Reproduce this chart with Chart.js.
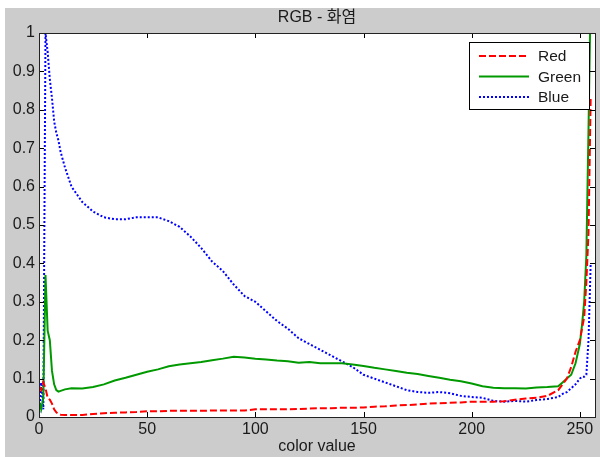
<!DOCTYPE html>
<html>
<head>
<meta charset="utf-8">
<script src="https://cdn.jsdelivr.net/npm/chart.js@4"></script>
<style>
  html, body { margin: 0; padding: 0; background: #fff; }
  canvas { display: block; }
</style>
</head>
<body>
<canvas id="histChart" width="604" height="457"></canvas>
<script>
const chartTitle = 'RGB - 화염';
const xLabel = 'color value';
const xTicks = [0, 50, 100, 150, 200, 250];
const yTicks = [0, 0.1, 0.2, 0.3, 0.4, 0.5, 0.6, 0.7, 0.8, 0.9, 1];

const colorValues = [0, 1, 2, 3, 4, 5, 6, 7, 8, 9, 10, 12, 15, 20, 25, 30, 35, 40, 45, 50,
    55, 60, 65, 70, 75, 80, 85, 90, 95, 100, 105, 110, 115, 120, 125, 130, 135, 140, 145, 150,
    155, 160, 165, 170, 175, 180, 185, 190, 195, 200, 205, 210, 215, 220, 225, 230, 235, 240,
    242, 244, 246, 248, 250, 251, 252, 253, 254, 255];

const redValues = [0.08, 0.07, 0.09, 0.075, 0.05, 0.045, 0.035, 0.02, 0.012, 0.008, 0.006, 0.005, 0.005, 0.005, 0.008, 0.01, 0.011, 0.012, 0.013, 0.015,
    0.015, 0.016, 0.016, 0.016, 0.016, 0.017, 0.017, 0.017, 0.017, 0.02, 0.02, 0.02, 0.02, 0.021, 0.022, 0.023, 0.023, 0.024, 0.024, 0.025,
    0.027, 0.028, 0.03, 0.031, 0.033, 0.035, 0.036, 0.037, 0.038, 0.04, 0.04, 0.04, 0.041, 0.045, 0.048, 0.05, 0.055, 0.07,
    0.085, 0.1, 0.13, 0.17, 0.2, 0.23, 0.26, 0.35, 0.48, 0.83];

const greenValues = [0.04, 0.02, 0.05, 0.37, 0.225, 0.2, 0.12, 0.085, 0.07, 0.066, 0.068, 0.072, 0.075, 0.074, 0.078, 0.085, 0.095, 0.102, 0.11, 0.118,
    0.124, 0.132, 0.137, 0.14, 0.143, 0.148, 0.152, 0.157, 0.155, 0.152, 0.15, 0.147, 0.145, 0.141, 0.143, 0.14, 0.14, 0.14, 0.137, 0.133,
    0.128, 0.124, 0.12, 0.115, 0.112, 0.107, 0.102, 0.097, 0.093, 0.087, 0.08, 0.076, 0.075, 0.075, 0.074, 0.077, 0.078, 0.08,
    0.09, 0.1, 0.11, 0.14, 0.19, 0.24, 0.3, 0.42, 0.75, 1.1];

const blueValues = [0.0, 0.09, 0.02, 1.0, 0.95, 0.88, 0.83, 0.77, 0.74, 0.72, 0.69, 0.65, 0.6, 0.56, 0.535, 0.52, 0.515, 0.515, 0.52, 0.52,
    0.52, 0.51, 0.495, 0.47, 0.44, 0.405, 0.38, 0.345, 0.315, 0.3, 0.275, 0.25, 0.23, 0.205, 0.19, 0.175, 0.16, 0.145, 0.13, 0.11,
    0.1, 0.09, 0.08, 0.07, 0.065, 0.063, 0.065, 0.062, 0.055, 0.052, 0.05, 0.042, 0.04, 0.042, 0.04, 0.044, 0.047, 0.052,
    0.06, 0.065, 0.075, 0.085, 0.1, 0.105, 0.105, 0.11, 0.2, 0.4];

const fontFamily = "'Liberation Sans', Arial, 'Noto Sans CJK KR', sans-serif";
const textColor = '#1a1a1a';

function toPoints(ys) {
    return colorValues.map((x, i) => ({ x: x, y: ys[i] }));
}

// gray figure + white axes background, title centred over the axes
const backgroundPlugin = {
    id: 'background',
    afterLayout(chart) {
        if (chart.titleBlock) {
            chart.titleBlock.left = chart.chartArea.left;
            chart.titleBlock.right = chart.chartArea.right;
        }
    },
    beforeDraw(chart) {
        const ctx = chart.ctx;
        const a = chart.chartArea;
        ctx.save();
        ctx.fillStyle = '#ffffff';
        ctx.fillRect(0, 0, chart.width, chart.height);
        ctx.fillStyle = '#cccccc';
        ctx.fillRect(5, 8, 595, chart.height - 8);
        ctx.fillStyle = '#ffffff';
        ctx.fillRect(a.left, a.top, a.right - a.left, a.bottom - a.top);
        ctx.restore();
    }
};

// box with inward ticks on all four sides, like matlab
const boxPlugin = {
    id: 'box',
    afterDatasetsDraw(chart) {
        const ctx = chart.ctx;
        const a = chart.chartArea;
        const xs = chart.scales.x;
        const ys = chart.scales.y;
        const len = 5;
        ctx.save();
        ctx.strokeStyle = '#000';
        ctx.lineWidth = 1;
        ctx.beginPath();
        xs.ticks.forEach(t => {
            const px = Math.round(xs.getPixelForValue(t.value)) + 0.5;
            ctx.moveTo(px, a.bottom);
            ctx.lineTo(px, a.bottom - len);
            ctx.moveTo(px, a.top);
            ctx.lineTo(px, a.top + len);
        });
        ys.ticks.forEach(t => {
            const py = Math.round(ys.getPixelForValue(t.value)) + 0.5;
            ctx.moveTo(a.left, py);
            ctx.lineTo(a.left + len, py);
            ctx.moveTo(a.right, py);
            ctx.lineTo(a.right - len, py);
        });
        ctx.stroke();
        ctx.strokeStyle = '#222';
        ctx.strokeRect(Math.round(a.left) + 0.5, Math.round(a.top) + 0.5,
            Math.round(a.right - a.left), Math.round(a.bottom - a.top));
        ctx.restore();
    }
};

// boxed legend in the top right corner
const legendPlugin = {
    id: 'boxLegend',
    afterDraw(chart) {
        const ctx = chart.ctx;
        const x0 = 469, y0 = 42, w = 120, h = 67;
        ctx.save();
        ctx.fillStyle = '#fff';
        ctx.fillRect(x0, y0, w, h);
        ctx.strokeStyle = '#000';
        ctx.lineWidth = 1;
        ctx.strokeRect(x0 + 0.5, y0 + 0.5, w, h);
        ctx.font = '15.5px ' + fontFamily;
        ctx.textBaseline = 'middle';
        chart.data.datasets.forEach((ds, i) => {
            const y = y0 + 14 + i * 20.5;
            ctx.strokeStyle = ds.borderColor;
            ctx.lineWidth = ds.borderWidth;
            ctx.setLineDash(ds.borderDash || []);
            ctx.beginPath();
            ctx.moveTo(x0 + 10, y);
            ctx.lineTo(x0 + 60, y);
            ctx.stroke();
            ctx.setLineDash([]);
            ctx.fillStyle = textColor;
            ctx.fillText(ds.label, x0 + 69, y + 1);
        });
        ctx.restore();
    }
};

const data = {
    datasets: [{
        label: 'Red',
        data: toPoints(redValues),
        borderColor: '#ff0000',
        borderWidth: 2,
        borderDash: [7, 3]
    }, {
        label: 'Green',
        data: toPoints(greenValues),
        borderColor: '#009a00',
        borderWidth: 2
    }, {
        label: 'Blue',
        data: toPoints(blueValues),
        borderColor: '#0000ff',
        borderWidth: 2,
        borderDash: [2, 2]
    }]
};

const config = {
    type: 'line',
    data: data,
    options: {
        responsive: false,
        animation: false,
        devicePixelRatio: 1,
        layout: { padding: { top: 0, right: 9, bottom: 0, left: 0 } },
        elements: {
            point: { radius: 0 },
            line: { tension: 0 }
        },
        plugins: {
            legend: { display: false },
            tooltip: { enabled: false },
            title: {
                display: true,
                text: chartTitle,
                color: textColor,
                font: { family: fontFamily, size: 16, weight: 'normal', lineHeight: 1.2 },
                padding: { top: 8.4, bottom: 5.4 }
            }
        },
        scales: {
            x: {
                type: 'linear',
                min: 0,
                max: 257,
                afterBuildTicks: s => { s.ticks = xTicks.map(v => ({ value: v })); },
                afterFit: s => { s.height = 40; },
                grid: { display: false, drawTicks: false },
                border: { display: false },
                ticks: {
                    padding: 3.4,
                    color: textColor,
                    maxRotation: 0,
                    font: { family: fontFamily, size: 16, lineHeight: 1.2 },
                    callback: v => String(v)
                },
                title: {
                    display: true,
                    text: xLabel,
                    color: textColor,
                    font: { family: fontFamily, size: 16, lineHeight: 1.2 },
                    padding: { top: 0, bottom: 0.5 }
                }
            },
            y: {
                min: 0,
                max: 1,
                afterBuildTicks: s => { s.ticks = yTicks.map(v => ({ value: v })); },
                afterFit: s => { s.width = 39; },
                grid: { display: false, drawTicks: false },
                border: { display: false },
                ticks: {
                    padding: 4,
                    color: textColor,
                    font: { family: fontFamily, size: 16 },
                    callback: v => String(Number(v.toFixed(1)))
                }
            }
        }
    },
    plugins: [backgroundPlugin, boxPlugin, legendPlugin]
};

var histChart = new Chart(
    document.getElementById('histChart'),
    config
);
</script>
</body>
</html>
